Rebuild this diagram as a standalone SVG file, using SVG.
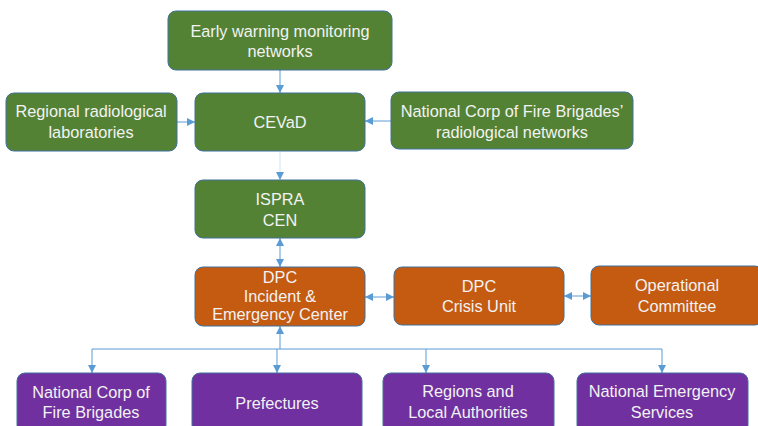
<svg xmlns="http://www.w3.org/2000/svg" width="758" height="426" viewBox="0 0 758 426">
<defs>
<style>
.g{fill:#548235;stroke:#41719C;stroke-width:1}
.o{fill:#C55A11;stroke:#41719C;stroke-width:1}
.p{fill:#7030A0;stroke:#41719C;stroke-width:1}
text{font-family:"Liberation Sans",Arial,sans-serif;font-size:16.3px;fill:#F2F2F2;text-anchor:middle}
.c{fill:none;stroke:#5B9BD5;stroke-width:1}
</style>
<marker id="a" viewBox="0 0 10 10" refX="10" refY="5" markerWidth="8" markerHeight="8" markerUnits="userSpaceOnUse" orient="auto-start-reverse">
<path d="M0,0L10,5L0,10z" fill="#5B9BD5"/>
</marker>
</defs>
<rect width="758" height="426" fill="#fff"/>
<g id="connectors">
<path class="c" d="M280,70V93" marker-end="url(#a)"/>
<path class="c" d="M177,122H195" marker-end="url(#a)"/>
<path class="c" d="M391,121H365" marker-end="url(#a)"/>
<path class="c" d="M280,151V180" stroke-opacity="0.25" marker-end="url(#a)"/>
<path class="c" d="M280,238V267" marker-start="url(#a)" marker-end="url(#a)"/>
<path class="c" d="M365,297H394" marker-start="url(#a)" marker-end="url(#a)"/>
<path class="c" d="M564,296H591" marker-start="url(#a)" marker-end="url(#a)"/>
<path class="c" d="M280,349V326" marker-end="url(#a)"/>
<path class="c" d="M92,349H662"/>
<path class="c" d="M92,349V373" marker-end="url(#a)"/>
<path class="c" d="M277,349V373" marker-end="url(#a)"/>
<path class="c" d="M426,349V373" marker-end="url(#a)"/>
<path class="c" d="M662,349V373" marker-end="url(#a)"/>
</g>
<g id="early"><rect class="g" x="168" y="11" width="224" height="59" rx="8"/><text x="280" y="37">Early warning monitoring</text><text x="280" y="57">networks</text></g>
<g id="regional"><rect class="g" x="6" y="93" width="171" height="58" rx="8"/><text x="91" y="117">Regional radiological</text><text x="91" y="138">laboratories</text></g>
<g id="cevad"><rect class="g" x="195" y="93" width="170" height="58" rx="8"/><text x="280" y="128">CEVaD</text></g>
<g id="fbnet"><rect class="g" x="391" y="92" width="242" height="57" rx="8"/><text x="512" y="117">National Corp of Fire Brigades’</text><text x="512" y="138">radiological networks</text></g>
<g id="ispra"><rect class="g" x="195" y="180" width="170" height="58" rx="8"/><text x="280" y="205">ISPRA</text><text x="280" y="226">CEN</text></g>
<g id="dpc"><rect class="o" x="195" y="267" width="170" height="59" rx="8"/><text x="280" y="283">DPC</text><text x="280" y="302">Incident &amp;</text><text x="280" y="320">Emergency Center</text></g>
<g id="crisis"><rect class="o" x="394" y="267" width="170" height="58" rx="8"/><text x="479" y="292">DPC</text><text x="479" y="312">Crisis Unit</text></g>
<g id="operational"><rect class="o" x="591" y="266" width="172" height="59" rx="8"/><text x="677" y="291">Operational</text><text x="677" y="312">Committee</text></g>
<g id="fb"><rect class="p" x="17" y="373" width="149" height="60" rx="8"/><text x="91" y="398">National Corp of</text><text x="91" y="418">Fire Brigades</text></g>
<g id="pref"><rect class="p" x="192" y="373" width="170" height="60" rx="8"/><text x="277" y="409">Prefectures</text></g>
<g id="regions"><rect class="p" x="383" y="373" width="171" height="60" rx="8"/><text x="468" y="397">Regions and</text><text x="468" y="418">Local Authorities</text></g>
<g id="nes"><rect class="p" x="577" y="373" width="171" height="60" rx="8"/><text x="662" y="397">National Emergency</text><text x="662" y="418">Services</text></g>
</svg>
